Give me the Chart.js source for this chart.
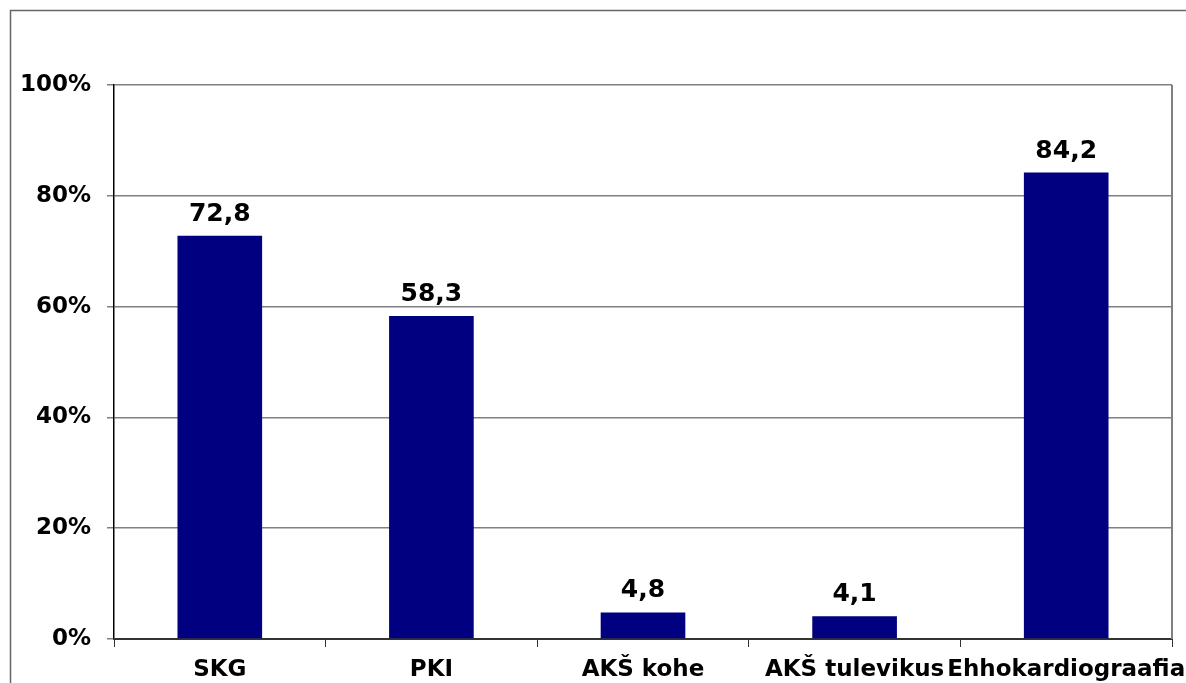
<!DOCTYPE html>
<html>
<head>
<meta charset="utf-8">
<script src="https://cdn.jsdelivr.net/npm/chart.js@4"></script>
<style>
  html, body { margin: 0; padding: 0; background: #fff; }
  #wrap { width: 1186px; height: 683px; }
</style>
</head>
<body>
<div id="wrap"><canvas id="chart" width="1186" height="683"></canvas></div>
<script>
const categories = ['SKG', 'PKI', 'AKŠ kohe', 'AKŠ tulevikus', 'Ehhokardiograafia'];
const values = [72.8, 58.3, 4.8, 4.1, 84.2];
const yTicks = [0, 20, 40, 60, 80, 100];

const fontFamily = '"DejaVu Sans", Verdana, sans-serif';

// frame round the whole picture and right edge of plot area
const framePlugin = {
    id: 'frame',
    beforeDraw(chart) {
        const ctx = chart.ctx;
        ctx.save();
        ctx.fillStyle = '#fff';
        ctx.fillRect(0, 0, chart.width, chart.height);
        ctx.strokeStyle = '#666';
        ctx.lineWidth = 1.5;
        ctx.strokeRect(10.5, 10.5, chart.width + 20, chart.height + 20);
        ctx.restore();
    },
    afterDraw(chart) {
        const a = chart.chartArea;
        const ctx = chart.ctx;
        ctx.save();
        ctx.strokeStyle = '#808080';
        ctx.lineWidth = 2;
        ctx.beginPath();
        ctx.moveTo(a.right, a.top);
        ctx.lineTo(a.right, a.bottom);
        ctx.stroke();
        ctx.restore();
    }
};

// value labels above the bars
const valueLabels = {
    id: 'valueLabels',
    afterDatasetsDraw(chart) {
        const ctx = chart.ctx;
        const meta = chart.getDatasetMeta(0);
        ctx.save();
        ctx.font = 'bold 25px ' + fontFamily;
        ctx.fillStyle = '#000';
        ctx.textAlign = 'center';
        ctx.textBaseline = 'alphabetic';
        meta.data.forEach((bar, i) => {
            ctx.fillText(values[i].toFixed(1).replace('.', ','), bar.x, bar.y - 15);
        });
        ctx.restore();
    }
};

new Chart(document.getElementById('chart'), {
    type: 'bar',
    data: {
        labels: categories,
        datasets: [{
            data: values,
            backgroundColor: '#000080',
            borderWidth: 0,
            barPercentage: 0.4,
            categoryPercentage: 1
        }]
    },
    options: {
        responsive: false,
        animation: false,
        events: [],
        layout: { padding: { top: 85, right: 14, left: 0, bottom: 0 } },
        plugins: { legend: { display: false }, tooltip: { enabled: false } },
        scales: {
            y: {
                min: 0, max: 100,
                afterFit(scale) { scale.width = 114; },
                afterBuildTicks(scale) { scale.ticks = yTicks.map(v => ({ value: v })); },
                ticks: {
                    callback: v => v + '%',
                    color: '#000',
                    padding: 16,
                    font: { family: fontFamily, size: 23, weight: 'bold' }
                },
                grid: { color: '#808080', lineWidth: 1.5, tickLength: 7 },
                border: { color: '#000', width: 1.5 }
            },
            x: {
                afterFit(scale) {
                    scale.height = 44;
                    scale.paddingLeft = 0;
                    scale.paddingRight = 0;
                },
                ticks: {
                    color: '#000',
                    padding: 9,
                    maxRotation: 0,
                    autoSkip: false,
                    font: { family: fontFamily, size: 23, weight: 'bold' }
                },
                grid: { offset: true, drawOnChartArea: false, color: '#333', tickLength: 8 },
                border: { color: '#333', width: 2 }
            }
        }
    },
    plugins: [framePlugin, valueLabels]
});
</script>
</body>
</html>
